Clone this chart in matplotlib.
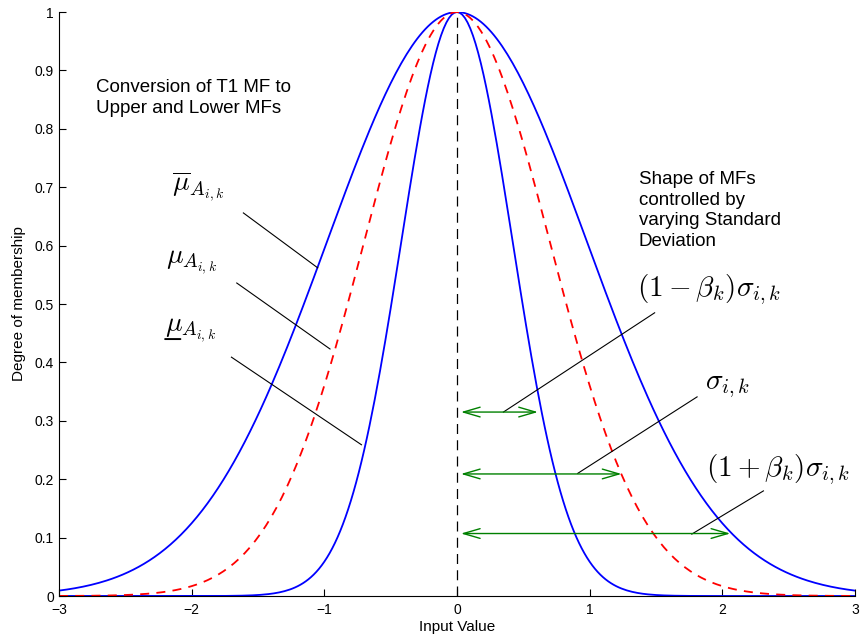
import numpy as np
import matplotlib
matplotlib.use('Agg')
import matplotlib.pyplot as plt

# membership function parameters
centre = 0.0
sigma = 0.7
beta = 0.4
x_range = [-3, 3]
n_points = 301

# green arrows: height and right end (left end sits next to the centre line)
arrow_y = [0.315, 0.209, 0.107]
arrow_x_end = [0.61, 1.24, 2.06]
arrow_x_start = 0.03

xticks = [-3, -2, -1, 0, 1, 2, 3]
yticks = [0, 0.1, 0.2, 0.3, 0.4, 0.5, 0.6, 0.7, 0.8, 0.9, 1]

plt.rcParams['font.family'] = ['Liberation Sans', 'DejaVu Sans']
plt.rcParams['mathtext.fontset'] = 'cm'


def gauss_mf(x, c, s):
    return np.exp(-((x - c) ** 2) / (2 * s ** 2))


x = np.linspace(x_range[0], x_range[1], n_points)
upper = gauss_mf(x, centre, (1 + beta) * sigma)
mid = gauss_mf(x, centre, sigma)
lower = gauss_mf(x, centre, (1 - beta) * sigma)

fig = plt.figure(figsize=(8.61, 6.41), dpi=100)
ax = fig.add_axes([0.0685, 0.0702, 0.9245, 0.911])

ax.plot(x, upper, color='blue', lw=1.3)
ax.plot(x, lower, color='blue', lw=1.3)
ax.plot(x, mid, color='red', lw=1.3, ls=(0, (5, 4)))
ax.plot([centre, centre], [0, 1], color='black', lw=0.9, ls=(0, (8, 5)))

for y, xe in zip(arrow_y, arrow_x_end):
    ax.annotate('', xy=(xe, y), xytext=(arrow_x_start, y),
                arrowprops=dict(arrowstyle='<->,head_length=1.2,head_width=0.35',
                                color='green', lw=1.0, shrinkA=0, shrinkB=0))

# label leader lines
leaders = [((-1.61, 0.656), (-1.05, 0.562)),
           ((-1.66, 0.536), (-0.957, 0.423)),
           ((-1.70, 0.409), (-0.72, 0.259)),
           ((1.49, 0.485), (0.35, 0.315)),
           ((1.81, 0.341), (0.91, 0.21)),
           ((2.31, 0.18), (1.77, 0.106))]
for (x0, y0), (x1, y1) in leaders:
    ax.plot([x0, x1], [y0, y1], color='black', lw=0.8)

ax.text(-2.72, 0.886, 'Conversion of T1 MF to\nUpper and Lower MFs',
        fontsize=13.5, va='top', ha='left', linespacing=1.3)
ax.text(1.37, 0.728, 'Shape of MFs\ncontrolled by\nvarying Standard\nDeviation',
        fontsize=13.5, va='top', ha='left', linespacing=1.28)

ax.text(-2.15, 0.70, r'$\overline{\mu}_{A_{i,k}}$', fontsize=20, ha='left', va='center')
ax.text(-2.19, 0.572, r'$\mu_{A_{i,k}}$', fontsize=20, ha='left', va='center')
# mathtext has no \underline, so the bar under mu is drawn as a short line
ax.text(-2.2, 0.455, r'$\mu_{A_{i,k}}$', fontsize=20, ha='left', va='center')
ax.annotate('', xy=(-2.2, 0.440), xytext=(11, 0), textcoords='offset points',
            arrowprops=dict(arrowstyle='-', color='black', lw=1.4,
                            shrinkA=0, shrinkB=0))
ax.text(1.36, 0.524, r'$(1-\beta_k)\sigma_{i,k}$', fontsize=21, ha='left', va='center')
ax.text(1.87, 0.36, r'$\sigma_{i,k}$', fontsize=21, ha='left', va='center')
ax.text(1.88, 0.216, r'$(1+\beta_k)\sigma_{i,k}$', fontsize=21, ha='left', va='center')

ax.set_xlim(x_range)
ax.set_ylim(0, 1)
ax.set_xticks(xticks)
ax.set_yticks(yticks)
ax.set_yticklabels([f'{v:g}' for v in yticks])
ax.tick_params(direction='in', length=5, labelsize=10, width=0.8)
ax.tick_params(axis='x', pad=5)
ax.spines['top'].set_visible(False)
ax.spines['right'].set_visible(False)
ax.set_xlabel('Input Value', fontsize=11, labelpad=2)
ax.set_ylabel('Degree of membership', fontsize=11, labelpad=6)

fig.savefig('out.png', dpi=100)
